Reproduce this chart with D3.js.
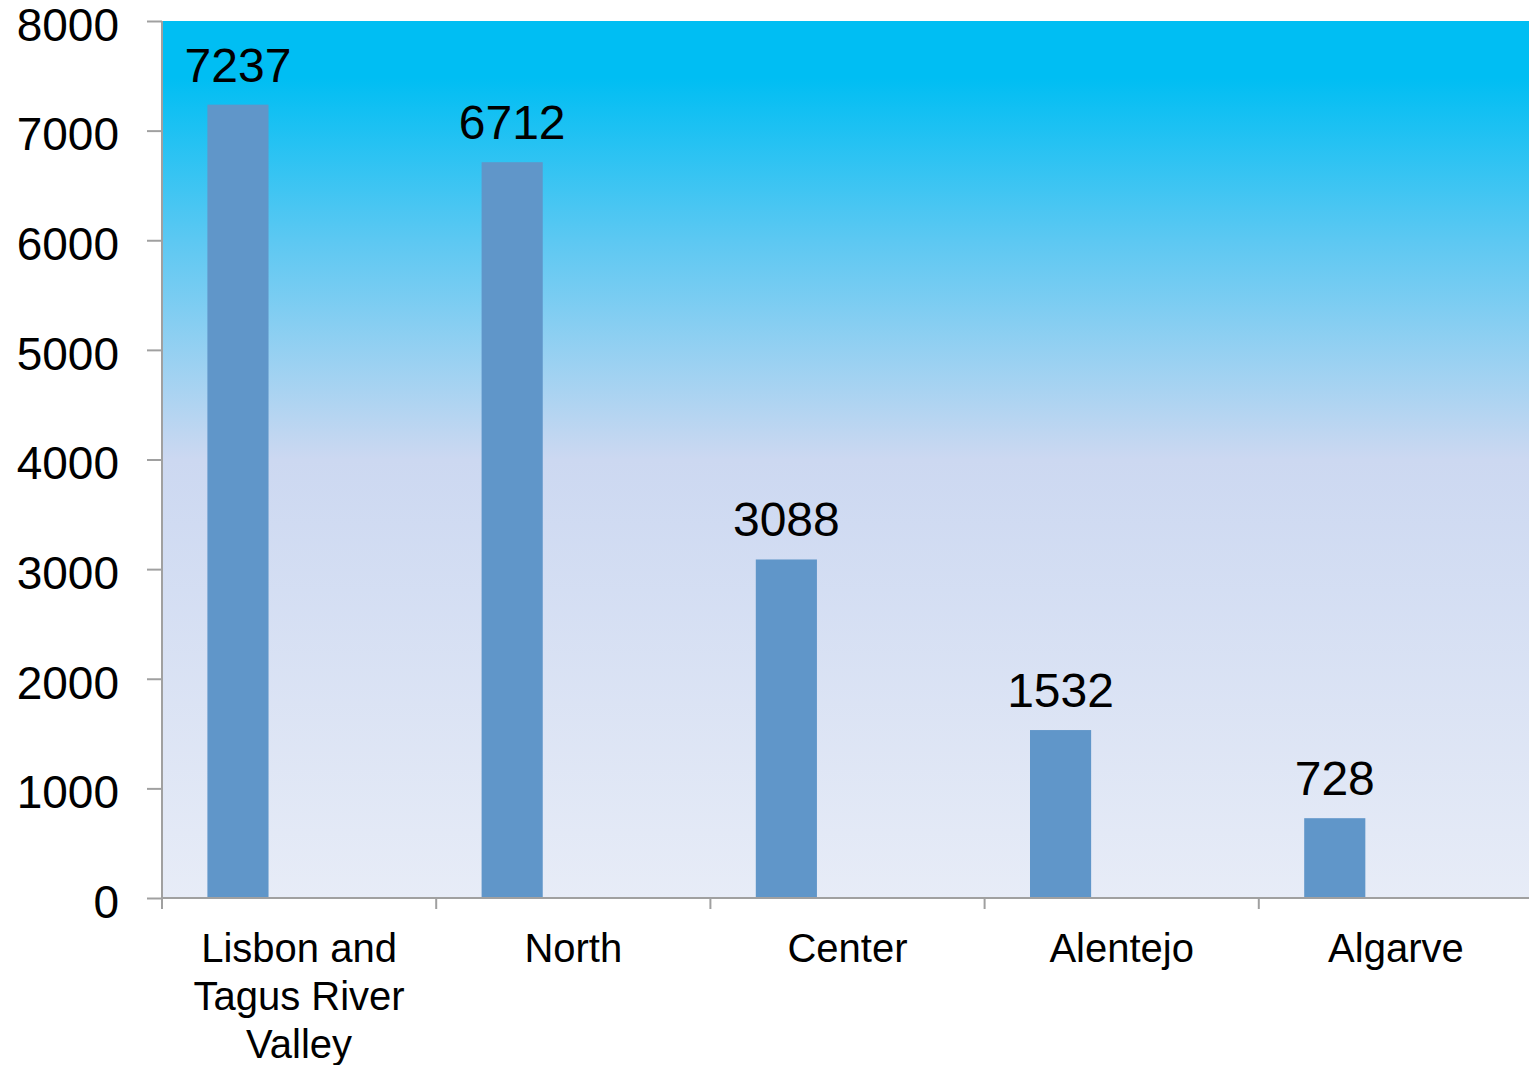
<!DOCTYPE html>
<html><head><meta charset="utf-8">
<script src="https://cdn.jsdelivr.net/npm/d3@7/dist/d3.min.js"></script>
<style>body{margin:0;background:#fff;}svg{display:block;font-family:"Liberation Sans",Arial,sans-serif;}</style>
</head><body>
<svg id="c" width="1529" height="1065"></svg>
<script>
const categories = ["Lisbon and Tagus River Valley","North","Center","Alentejo","Algarve"];
const categoryLines = [["Lisbon and","Tagus River","Valley"],["North"],["Center"],["Alentejo"],["Algarve"]];
const seriesNames = ["Series 1","Series 2","Series 3"];
const values = [7237, 6712, 3088, 1532, 728];
const yTicks = [0,1000,2000,3000,4000,5000,6000,7000,8000];

const svg = d3.select("#c");
const L = 162, R = 1533, T = 21, B = 898;

const defs = svg.append("defs");
const g = defs.append("linearGradient").attr("id","bg").attr("gradientUnits","userSpaceOnUse").attr("x1",0).attr("y1",T).attr("x2",0).attr("y2",B);
[[0,"#00BEF3"],[0.065,"#00BEF3"],[0.25,"#5CC8F2"],[0.5,"#CCD8F1"],[1,"#E7ECF7"]].forEach(s=>g.append("stop").attr("offset",s[0]).attr("stop-color",s[1]));

svg.append("rect").attr("x",L).attr("y",T).attr("width",1529-L).attr("height",B-T).attr("fill","url(#bg)");

const x0 = d3.scaleBand().domain(categories).range([L,R]).padding(0);
const x1 = d3.scaleBand().domain(seriesNames).range([0,x0.bandwidth()]).paddingInner(0).paddingOuter(0.7426);
const y = d3.scaleLinear().domain([0,8000]).range([B,T]);

// bars
svg.append("g").selectAll("rect").data(values).join("rect")
  .attr("x",(d,i)=>x0(categories[i])+x1(seriesNames[0]))
  .attr("y",d=>y(d)).attr("width",x1.bandwidth()).attr("height",d=>B-y(d))
  .attr("fill","#6096C9");

// data labels
svg.append("g").selectAll("text").data(values).join("text")
  .attr("x",(d,i)=>x0(categories[i])+x1(seriesNames[0])+x1.bandwidth()/2)
  .attr("y",d=>y(d)-23)
  .attr("text-anchor","middle").attr("font-size",48).attr("fill","#000")
  .text(d=>d);

// y axis
const axisColor = "#A0A0A0";
const ya = svg.append("g").attr("transform",`translate(${L},0)`)
  .call(d3.axisLeft(y).tickValues(yTicks).tickSize(15).tickPadding(28).tickFormat(d3.format("d")));
ya.select(".domain").attr("stroke",axisColor).attr("stroke-width",2).attr("d",`M0,${T}V${B}`);
ya.selectAll(".tick line").attr("stroke",axisColor).attr("stroke-width",2);
ya.selectAll(".tick text").attr("font-size",46).attr("fill","#000").attr("font-family","Liberation Sans, Arial, sans-serif").attr("dy","0.42em");

// x axis
const xa = svg.append("g").attr("transform",`translate(0,${B})`);
xa.append("line").attr("x1",L).attr("x2",1529).attr("y1",0).attr("y2",0).attr("stroke",axisColor).attr("stroke-width",2);
xa.selectAll("line.t").data(categories).join("line").attr("class","t")
  .attr("x1",d=>x0(d)).attr("x2",d=>x0(d)).attr("y1",0).attr("y2",11)
  .attr("stroke",axisColor).attr("stroke-width",2);
xa.selectAll("text").data(categories).join("text")
  .attr("text-anchor","middle").attr("font-size",40).attr("fill","#000")
  .each(function(d,i){
    const t = d3.select(this);
    categoryLines[i].forEach((ln,j)=>{
      t.append("tspan").attr("x",x0(d)+x0.bandwidth()/2).attr("y",64+j*48).text(ln);
    });
  });
</script>
</body></html>
